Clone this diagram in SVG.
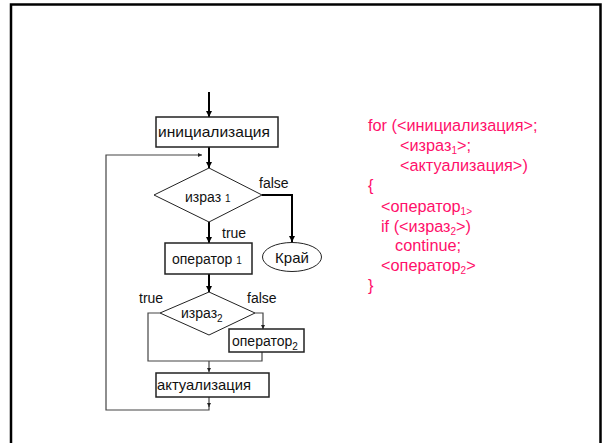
<svg xmlns="http://www.w3.org/2000/svg" width="602" height="443" viewBox="0 0 602 443">
<style>
text{font-family:"Liberation Sans",Arial,sans-serif;fill:#111}
.lbl{font-size:14px}
.box{fill:#fff;stroke:#222;stroke-width:1.5}
.shape{fill:#fff;stroke:#222;stroke-width:1}
.thick{fill:none;stroke:#000;stroke-width:2}
.thin{fill:none;stroke:#444;stroke-width:1.2}
.code{font-size:16.3px;fill:#ff0f6a}
.sub{font-size:10px}
</style>
<defs>
<marker id="big" viewBox="0 0 10 10" refX="10" refY="5" markerWidth="6" markerHeight="10" markerUnits="userSpaceOnUse" orient="auto"><path d="M0,0 L10,5 L0,10 z" fill="#000"/></marker>
<marker id="small" viewBox="0 0 10 10" refX="10" refY="5" markerWidth="6" markerHeight="4" markerUnits="userSpaceOnUse" orient="auto"><path d="M0,0 L10,5 L0,10 z" fill="#222"/></marker>
</defs>
<rect x="11" y="4.5" width="589.5" height="460" fill="none" stroke="#000" stroke-width="2.5"/>
<g id="connectors">
<path class="thick" d="M209,92 V117" marker-end="url(#big)"/>
<path class="thick" d="M209,147 V168" marker-end="url(#big)"/>
<path class="thick" d="M209,222 V243" marker-end="url(#big)"/>
<path class="thick" d="M262,195 H292 V242" marker-end="url(#big)"/>
<path class="thick" d="M209,274 V292" marker-end="url(#big)"/>
<path class="thin" d="M160,313 H148 V361 H262 V352"/>
<path class="thin" d="M255,313 H263 V329" marker-end="url(#small)"/>
<path class="thin" d="M209,361 V372" marker-end="url(#small)"/>
<path class="thin" d="M209,397 V407" marker-end="url(#small)"/>
<path class="thin" d="M209,406 V410 H106 V155 H202" marker-end="url(#small)"/>
</g>
<g id="init">
<rect class="box" x="156" y="117" width="122" height="30"/>
<text class="lbl" x="158" y="137" textLength="112" lengthAdjust="spacingAndGlyphs" style="font-size:14.5px">инициализация</text>
</g>
<g id="cond1">
<polygon class="shape" points="209,168 262,195 209,222 154,195"/>
<text class="lbl" x="185" y="202">израз <tspan class="sub">1</tspan></text>
</g>
<g id="end">
<ellipse class="shape" cx="292" cy="257" rx="29.5" ry="14.5"/>
<text class="lbl" x="292" y="262.5" text-anchor="middle" style="font-size:15px">Край</text>
</g>
<g id="op1">
<rect class="box" x="165" y="243" width="87" height="31"/>
<text class="lbl" x="172" y="264">оператор <tspan class="sub">1</tspan></text>
</g>
<g id="cond2">
<polygon class="shape" points="209,292 255,313 209,335 160,313"/>
<text class="lbl" x="181" y="318">израз<tspan class="sub" dy="4">2</tspan></text>
</g>
<g id="op2">
<rect class="box" x="229" y="329" width="75" height="23"/>
<text class="lbl" x="232" y="346">оператор<tspan class="sub" dy="4">2</tspan></text>
</g>
<g id="upd">
<rect class="box" x="156" y="373" width="113" height="24"/>
<text class="lbl" x="157" y="390" textLength="94" lengthAdjust="spacingAndGlyphs" style="font-size:14.5px">актуализация</text>
</g>
<g id="labels">
<text class="lbl" x="259" y="188">false</text>
<text class="lbl" x="222" y="238">true</text>
<text class="lbl" x="139" y="303">true</text>
<text class="lbl" x="247" y="303">false</text>
</g>
<g id="code">
<text class="code" x="368" y="131">for (&lt;инициализация&gt;;</text>
<text class="code" x="400" y="151">&lt;израз<tspan class="sub" dy="3">1</tspan><tspan dy="-3">&gt;;</tspan></text>
<text class="code" x="400" y="171">&lt;актуализация&gt;)</text>
<text class="code" x="368" y="191">{</text>
<text class="code" x="381" y="212">&lt;оператор<tspan class="sub" dy="3">1&gt;</tspan></text>
<text class="code" x="381" y="232">if (&lt;израз<tspan class="sub" dy="3">2</tspan><tspan dy="-3">&gt;)</tspan></text>
<text class="code" x="395" y="251">continue;</text>
<text class="code" x="381" y="271">&lt;оператор<tspan class="sub" dy="3">2</tspan><tspan dy="-3">&gt;</tspan></text>
<text class="code" x="368" y="291">}</text>
</g>
</svg>
